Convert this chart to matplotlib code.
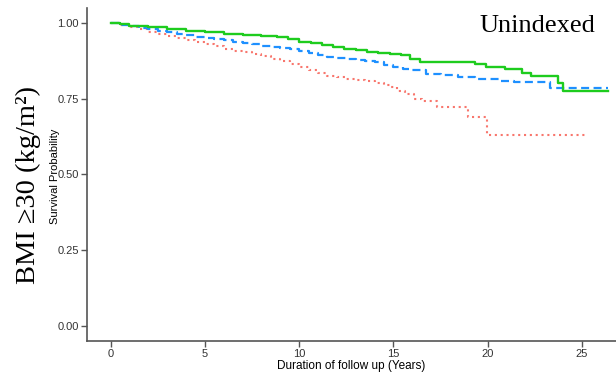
import matplotlib
matplotlib.use("Agg")
import matplotlib.pyplot as plt

# Kaplan-Meier style curves (time in years, survival)
green_t = [0, 0.5, 1, 1.5, 2, 3, 4, 5, 6, 7, 8, 8.8, 9.4, 10, 10.6, 11.2, 11.8,
           12.4, 13.0, 13.6, 14.2, 14.8, 15.4, 15.9, 16.4, 19.3, 19.9, 20.9,
           21.8, 22.3, 23.7, 24.0, 26.4]
green_s = [1.0, 0.996, 0.992, 0.989, 0.986, 0.980, 0.974, 0.969, 0.965, 0.961,
           0.957, 0.953, 0.946, 0.939, 0.933, 0.927, 0.921, 0.915, 0.911, 0.906,
           0.901, 0.898, 0.895, 0.882, 0.873, 0.864, 0.856, 0.847, 0.836, 0.824,
           0.802, 0.777, 0.777]

blue_t = [0, 0.5, 1, 1.5, 2, 2.5, 3, 3.5, 4, 4.5, 5, 5.5, 6, 6.5, 7, 7.5, 8,
          8.5, 9, 9.5, 10, 10.5, 11, 11.5, 12, 12.5, 13, 13.5, 14, 14.5, 15,
          15.5, 16, 16.7, 17.5, 18.4, 19.3, 20.7, 21.4, 23.3, 26.4]
blue_s = [1.0, 0.995, 0.990, 0.985, 0.980, 0.975, 0.970, 0.965, 0.960, 0.955,
          0.951, 0.947, 0.943, 0.938, 0.934, 0.930, 0.926, 0.921, 0.917, 0.913,
          0.909, 0.902, 0.895, 0.889, 0.885, 0.881, 0.878, 0.875, 0.870, 0.863,
          0.855, 0.849, 0.844, 0.833, 0.828, 0.822, 0.814, 0.810, 0.806, 0.785,
          0.785]

red_t = [0, 0.5, 1, 1.5, 2, 2.5, 3, 3.5, 4, 4.5, 5, 5.5, 6, 6.5, 7, 7.5, 8,
         8.5, 9, 9.5, 10, 10.5, 11, 11.5, 12, 12.5, 13, 13.5, 14, 14.5, 14.8,
         15.2, 15.6, 16.1, 16.5, 17.3, 18.95, 19.95, 25.2]
red_s = [1.0, 0.993, 0.986, 0.979, 0.972, 0.964, 0.957, 0.950, 0.943, 0.936,
         0.930, 0.923, 0.916, 0.909, 0.903, 0.897, 0.890, 0.883, 0.875, 0.866,
         0.856, 0.845, 0.835, 0.826, 0.821, 0.816, 0.812, 0.808, 0.803, 0.796,
         0.788, 0.777, 0.765, 0.749, 0.742, 0.724, 0.691, 0.631, 0.631]

x_ticks = [0, 5, 10, 15, 20, 25]
y_ticks = [0.0, 0.25, 0.5, 0.75, 1.0]

fig = plt.figure(figsize=(6.16, 3.79), dpi=100)
ax = fig.add_axes([0.1407, 0.1003, 0.8593, 0.8787])

ax.step(red_t, red_s, where="post", color="#F8766D", lw=1.5,
        linestyle=(0, (1, 1.8)))
ax.step(blue_t, blue_s, where="post", color="#1E90FF", lw=1.6,
        linestyle=(0, (3.6, 2)))
ax.step(green_t, green_s, where="post", color="#1ECC1E", lw=1.7)

ax.set_xlim(-1.27, 26.8)
ax.set_ylim(-0.05, 1.05)
ax.set_xticks(x_ticks)
ax.set_yticks(y_ticks)
ax.set_yticklabels([f"{v:.2f}" for v in y_ticks])

for s in ["top", "right"]:
    ax.spines[s].set_visible(False)
for s in ["left", "bottom"]:
    ax.spines[s].set_color("#555555")
    ax.spines[s].set_linewidth(1.2)
ax.tick_params(colors="#555555", labelcolor="#333333", length=4, width=1.0,
               labelsize=8, pad=1.5)
for lab in ax.get_xticklabels() + ax.get_yticklabels():
    lab.set_family("Liberation Sans")

ax.set_xlabel("Duration of follow up (Years)", family="Liberation Sans",
              fontsize=8.5, labelpad=1)
# y label sits between the big row title and the tick labels
fig.text(0.089, 0.5356, "Survival Probability", family="Liberation Sans",
         fontsize=8, rotation=90, ha="center", va="center")

fig.text(0.872, 0.932, "Unindexed", family="Liberation Serif", fontsize=19,
         ha="center", va="center")
fig.text(0.046, 0.512, "BMI \u226530 (kg/m\u00b2)", family="Liberation Serif",
         fontsize=20.5, rotation=90, ha="center", va="center")

fig.savefig("out.png", dpi=100)
